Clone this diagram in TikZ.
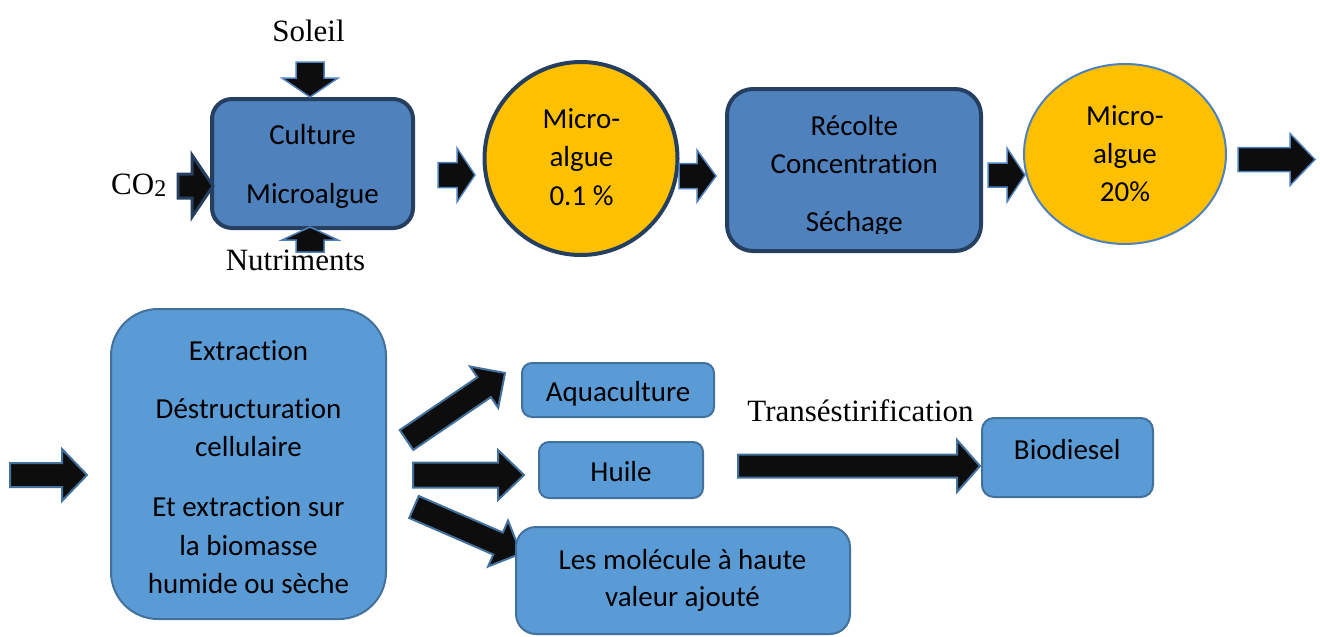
\documentclass[tikz,border=0pt]{standalone}
\usepackage{fontspec}
\setmainfont{Liberation Serif}
\newfontfamily\calibri[Ligatures=NoCommon]{Carlito}
\usetikzlibrary{calc,shapes.geometric}

\definecolor{boxblue}{HTML}{4F81BD}
\definecolor{navyline}{HTML}{243F60}
\definecolor{gold}{HTML}{FFC000}
\definecolor{paleblue}{HTML}{5B9BD5}
\definecolor{steelline}{HTML}{41719C}
\definecolor{arrowink}{HTML}{0D0D0D}

\tikzset{
  darkbox/.style={draw=navyline, line width=4pt, fill=boxblue, inner sep=0pt},
  lightbox/.style={draw=steelline, line width=2pt, fill=paleblue, inner sep=0pt},
  goldcircle/.style={circle, draw=navyline, line width=4pt, fill=gold, inner sep=0pt},
  goldoval/.style={ellipse, draw=boxblue, line width=2pt, fill=gold, inner sep=0pt},
  arrowshape/.style={fill=arrowink, draw=boxblue, line width=1.5pt, line join=miter},
  lowarrow/.style={draw=steelline, line width=2pt},
  co2arrow/.style={draw=navyline, line width=3pt},
  caltext/.style={font=\calibri\fontsize{29}{35}\selectfont, anchor=base, inner sep=0pt},
  serif/.style={font=\fontsize{31}{37}\selectfont, anchor=base, inner sep=0pt},
}

% block arrow: [style] {tail centre} {tip} {shaft half-width} {head half-width} {head length}
\newcommand\blockarrow[6][]{%
  \path[arrowshape,#1] let \p1=#2, \p2=#3,
      \n1={atan2(\y2-\y1,\x2-\x1)},
      \n2={veclen(\x2-\x1,\y2-\y1)} in
    ($(\p1)+(\n1+90:#4pt)$)
    -- ++(\n1:{(\n2-#6)*1pt})
    -- ++(\n1+90:{(#5-#4)*1pt})
    -- (\p2)
    -- ($(\p1)+(\n1:{(\n2-#6)*1pt})+(\n1-90:#5pt)$)
    -- ++(\n1+90:{(#5-#4)*1pt})
    -- ($(\p1)+(\n1-90:#4pt)$)
    -- cycle;}

\begin{document}
\begin{tikzpicture}[x=1pt,y=-1pt]
\useasboundingbox (0,0) rectangle (1320,637);

% arrow that passes under the lower box
\blockarrow[lowarrow]{(414,507)}{(521,553.5)}{12}{25}{25}

% ---- top row ----
\node[darkbox, rounded corners=20pt, minimum width=201pt, minimum height=129pt] (culture) at (312.5,163.5) {};
\node[goldcircle, minimum size=193pt] (c1) at (581,158.5) {};
\node[darkbox, rounded corners=26pt, minimum width=254pt, minimum height=162pt] (recolte) at (854,170) {};
\node[goldoval, minimum width=202pt, minimum height=180pt] (c2) at (1125,154) {};

% ---- bottom row ----
\node[lightbox, rounded corners=47pt, minimum width=275pt, minimum height=310pt] (extraction) at (248.5,464) {};
\node[lightbox, rounded corners=10pt, minimum width=192pt, minimum height=54pt] (aqua) at (618,390) {};
\node[lightbox, rounded corners=10pt, minimum width=164pt, minimum height=56pt] (huile) at (621,470) {};
\node[lightbox, rounded corners=20pt, minimum width=334pt, minimum height=107pt] (molecules) at (683,580.5) {};
\node[lightbox, rounded corners=12pt, minimum width=171pt, minimum height=79pt] (biodiesel) at (1067.5,457.5) {};

% ---- block arrows ----
\blockarrow{(310,62)}{(310,97)}{14}{28}{19}
\blockarrow[co2arrow]{(178,186)}{(213,186)}{12}{31}{21}
\blockarrow{(310,252)}{(310,227)}{14}{28}{13}
\blockarrow{(438,175)}{(475,175)}{12.5}{27}{18}
\blockarrow{(679,176)}{(716,176)}{12.5}{26}{19}
\blockarrow{(988,175)}{(1025,175)}{12}{27}{18}
\blockarrow{(1238,159.5)}{(1315,159.5)}{12}{26}{25}
\blockarrow[lowarrow]{(10,475)}{(87,475)}{12}{26}{25}
\blockarrow[lowarrow]{(406.5,440)}{(505,373)}{12}{25}{25}
\blockarrow[lowarrow]{(413,475)}{(524,475)}{12.5}{25}{26}
\blockarrow[lowarrow]{(738,466)}{(980,466)}{11.5}{26}{23}

% ---- labels ----
\node[serif] (soleil) at (308.5,41) {Soleil};
\node[serif, anchor=base west] (co2) at (111,194) {CO\raisebox{-0.2ex}{\fontsize{24}{28}\selectfont 2}};
\node[serif] (nutri) at (295.5,270) {Nutriments};
\node[serif] (trans) at (860.5,421.7) {Transéstirification};

\node[caltext] (culture1) at (312.5,144) {Culture};
\node[caltext] (culture2) at (312.5,203.3) {Microalgue};

\node[caltext] (c1a) at (581.5,128.3) {Micro-};
\node[caltext] (c1b) at (581.5,166.7) {algue};
\node[caltext] (c1c) at (581.5,205) {0.1 \%};

\node[caltext] (rec1) at (854.3,135) {Récolte};
\node[caltext] (rec2) at (854.3,173.3) {Concentration};
\begin{scope}
  \clip (727,200) rectangle (981,233.3);
  \node[caltext] (rec3) at (854.3,231.7) {Séchage};
\end{scope}

\node[caltext] (c2a) at (1125,125) {Micro-};
\node[caltext] (c2b) at (1125,163.3) {algue};
\node[caltext] (c2c) at (1125,201.7) {20\%};

\node[caltext] (ex1) at (248.5,360) {Extraction};
\node[caltext] (ex2) at (248.5,418.3) {Déstructuration};
\node[caltext] (ex3) at (248.5,456.7) {cellulaire};
\node[caltext] (ex4) at (248.5,516.7) {Et extraction sur};
\node[caltext] (ex5) at (248.5,555) {la biomasse};
\node[caltext] (ex6) at (248.5,593.3) {humide ou sèche};

\node[caltext] (aquatxt) at (618,401.7) {Aquaculture};
\node[caltext] (huiletxt) at (621,481.7) {Huile};
\node[caltext] (mol1) at (682.5,569.3) {Les molécule à haute};
\node[caltext] (mol2) at (682.5,606.7) {valeur ajouté};
\node[caltext] (biotxt) at (1067.2,459.3) {Biodiesel};
\end{tikzpicture}
\end{document}
